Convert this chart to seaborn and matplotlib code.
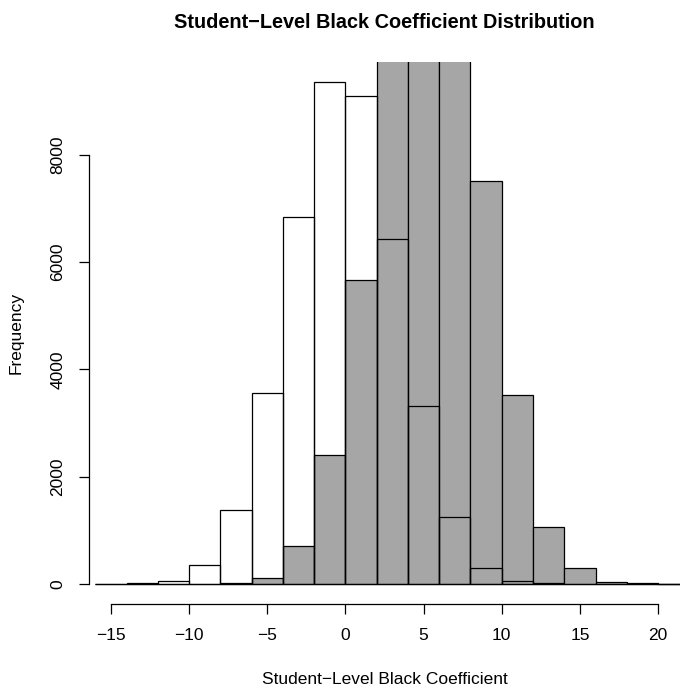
import numpy as np
import seaborn as sns
import matplotlib.pyplot as plt

# bin edges (width 2) and bin counts
bin_edges = list(range(-16, 24, 2))
bin_centers = [e + 1 for e in bin_edges[:-1]]

# first sample (outlined bars)
white_counts = [3, 12, 62, 354, 1380, 3562, 6832, 9362, 9101, 6434,
                3307, 1255, 298, 62, 8, 1, 0, 0, 0]
# second sample (gray bars, clipped at the top of the plot)
gray_counts = [0, 0, 1, 4, 25, 118, 714, 2406, 5670, 10600,
               13400, 11500, 7516, 3512, 1069, 298, 30, 8, 1]

x_ticks = [-15, -10, -5, 0, 5, 10, 15, 20]
y_ticks = [0, 2000, 4000, 6000, 8000]

sns.set_style("white")
plt.rcParams["font.family"] = ["Liberation Sans", "DejaVu Sans"]
plt.rcParams["axes.unicode_minus"] = True

fig = plt.figure(figsize=(6.83, 6.91), dpi=100)
ax = fig.add_axes([89 / 683, 87 / 691, 591 / 683, 542.5 / 691])

sns.histplot(x=bin_centers, weights=gray_counts, bins=bin_edges,
             color="#a6a6a6", alpha=1, edgecolor="black", linewidth=0.9, ax=ax)
sns.histplot(x=bin_centers, weights=white_counts, bins=bin_edges,
             fill=False, color="black", edgecolor="black", linewidth=0.9, ax=ax)

# R-style axis extents (4% padding), white histogram max sets ylim
ymax = max(white_counts)
ax.set_ylim(-0.04 * ymax, 1.04 * ymax)
ax.set_xlim(-15 - 0.04 * 35, 20 + 0.04 * 35)

for s in ["top", "right"]:
    ax.spines[s].set_visible(False)
ax.spines["bottom"].set_bounds(-15, 20)
ax.spines["left"].set_bounds(0, 8000)
for s in ["bottom", "left"]:
    ax.spines[s].set_color("black")
    ax.spines[s].set_linewidth(0.9)

ax.set_xticks(x_ticks)
ax.set_xticklabels([str(t).replace("-", "\u2212") for t in x_ticks])
ax.set_yticks(y_ticks)
ax.set_yticklabels([str(t) for t in y_ticks], rotation=90, va="center")
ax.tick_params(axis="both", direction="out", length=7, width=0.9,
               color="black", labelcolor="black", labelsize=12.5, pad=10,
               bottom=True, left=True)
ax.grid(False)

ax.set_xlabel("Student\u2212Level Black Coefficient", fontsize=12.5,
              color="black", labelpad=21)
ax.set_ylabel("Frequency", fontsize=12.5, color="black", labelpad=19)
ax.set_title("Student\u2212Level Black Coefficient Distribution",
             fontsize=14.3, fontweight="bold", color="black", pad=24)

fig.savefig("out.png", dpi=100)
